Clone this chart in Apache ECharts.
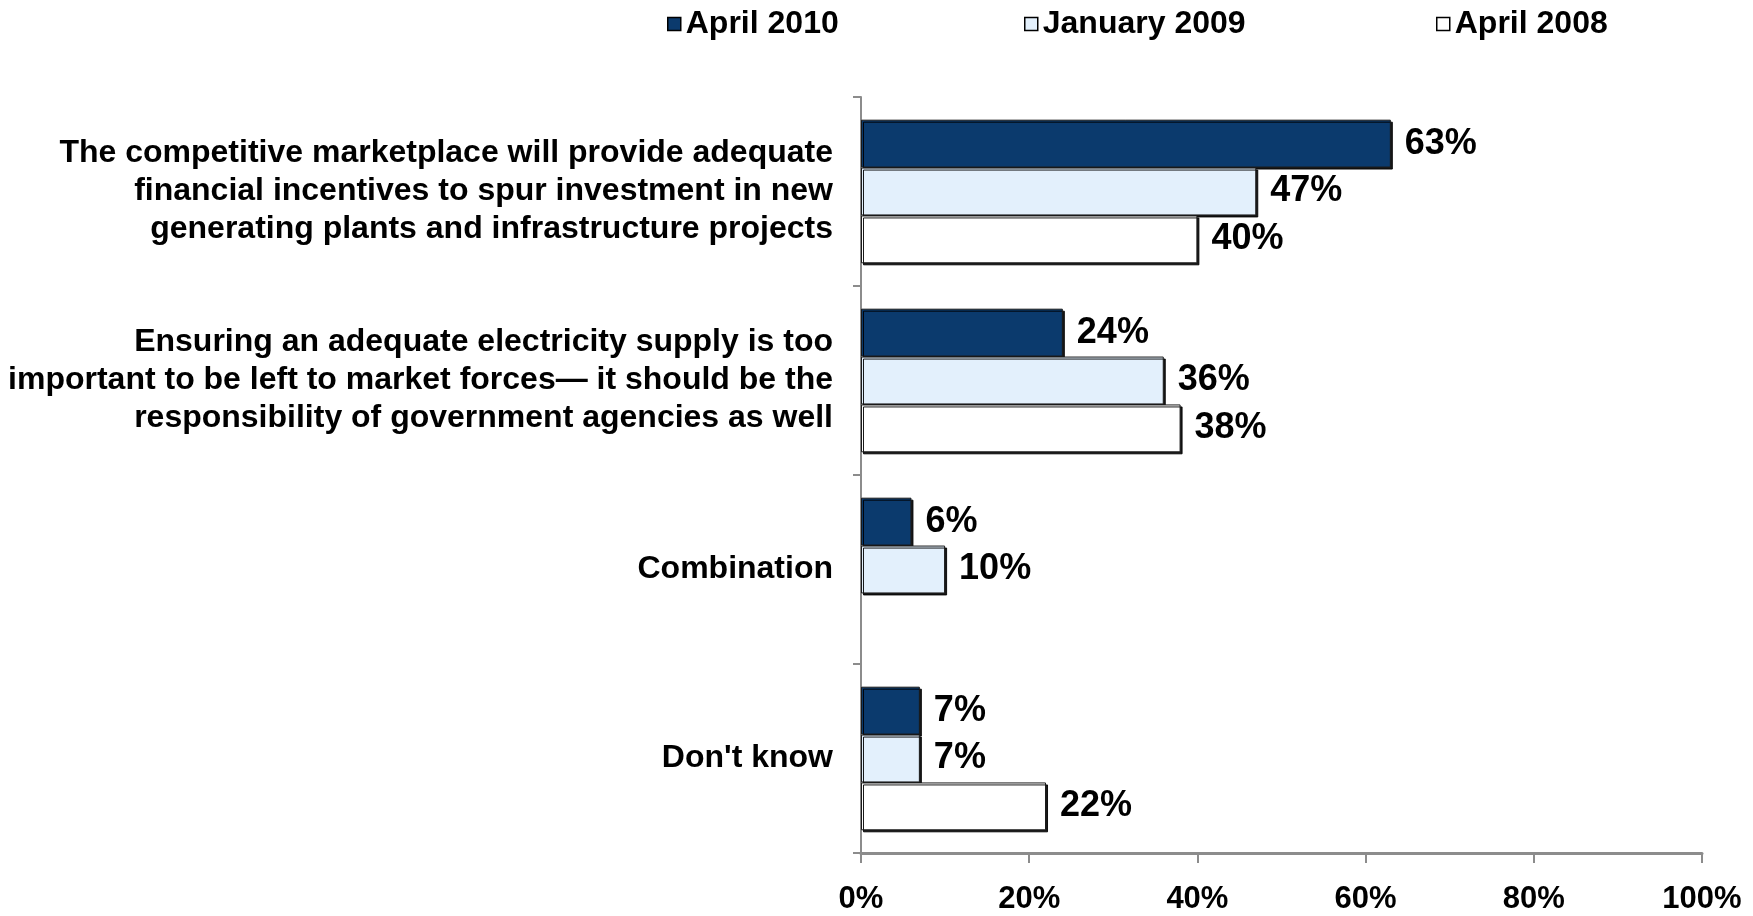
<!DOCTYPE html>
<html>
<head>
<meta charset="utf-8">
<script src="https://cdn.jsdelivr.net/npm/echarts@6/dist/echarts.min.js"></script>
<style>
  html, body { margin: 0; padding: 0; background: #fff; }
  #chart { width: 1753px; height: 916px; }
</style>
</head>
<body>
<div id="chart"></div>
<script>
// Survey answers, listed top to bottom
const categories = [
  'The competitive marketplace will provide adequate\nfinancial incentives to spur investment in new\ngenerating plants and infrastructure projects',
  'Ensuring an adequate electricity supply is too\nimportant to be left to market forces\u2014 it should be the\nresponsibility of government agencies as well',
  'Combination',
  "Don't know"
];
const seriesNames = ['April 2010', 'January 2009', 'April 2008'];
const april2010 = [63, 24, 6, 7];
const january2009 = [47, 36, 10, 7];
const april2008 = [40, 38, null, 22];
const xTicks = [0, 20, 40, 60, 80, 100];

const FONT = "'Liberation Sans', Arial, sans-serif";
const colors = ['#0b3a6d', '#e3f0fc', '#ffffff'];
const values = [april2010, january2009, april2008];

const chart = echarts.init(document.getElementById('chart'), null, { renderer: 'canvas' });

// one legend block per wave, spread across the top
const legendLefts = [662, 1019, 1431];

const option = {
  animation: false,
  backgroundColor: '#ffffff',
  legend: seriesNames.map((name, i) => ({
    data: [name],
    left: legendLefts[i],
    top: 3,
    icon: 'rect',
    itemWidth: 13,
    itemHeight: 13,
    itemGap: 0,
    textStyle: { fontFamily: FONT, fontWeight: 'bold', fontSize: 32, color: '#000' },
    itemStyle: { borderColor: '#000', borderWidth: 1.5, shadowBlur: 0, shadowOffsetX: 0, shadowOffsetY: 0 }
  })),
  grid: { left: 861, right: 51, top: 97, bottom: 63, containLabel: false },
  xAxis: {
    type: 'value',
    min: 0,
    max: 100,
    interval: 20,
    splitLine: { show: false },
    axisLine: { show: true, lineStyle: { color: '#8c8c8c', width: 3 } },
    axisTick: { show: true, length: 10, lineStyle: { color: '#8c8c8c', width: 2 } },
    axisLabel: {
      margin: 31,
      fontFamily: FONT, fontWeight: 'bold', fontSize: 31, color: '#000',
      formatter: v => xTicks.includes(v) ? v + '%' : ''
    }
  },
  yAxis: {
    type: 'category',
    inverse: true,
    data: categories,
    axisLine: { show: true, lineStyle: { color: '#8c8c8c', width: 2 } },
    axisTick: { show: true, length: 8, lineStyle: { color: '#8c8c8c', width: 2 } },
    axisLabel: {
      margin: 28,
      align: 'right',
      fontFamily: FONT, fontWeight: 'bold', fontSize: 32, lineHeight: 38, color: '#000'
    }
  },
  series: seriesNames.map((name, i) => ({
    name: name,
    type: 'bar',
    data: values[i],
    barGap: '0%',
    barCategoryGap: '24%',
    itemStyle: {
      color: colors[i],
      borderColor: '#1a1a1a',
      borderWidth: 1,
      shadowColor: 'rgba(0,0,0,0.9)',
      shadowBlur: 0,
      shadowOffsetX: 2,
      shadowOffsetY: 2
    },
    label: {
      show: true,
      position: 'right',
      distance: 14,
      formatter: p => p.value == null ? '' : p.value + '%',
      fontFamily: FONT, fontWeight: 'bold', fontSize: 36, color: '#000'
    }
  }))
};

chart.setOption(option);
</script>
</body>
</html>
